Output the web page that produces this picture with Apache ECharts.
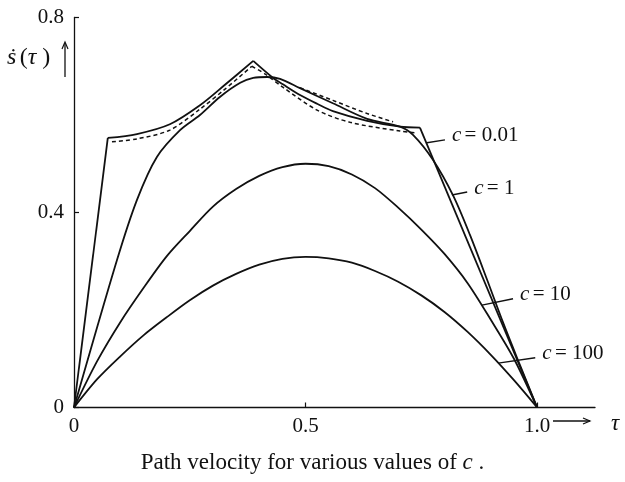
<!DOCTYPE html>
<html>
<head>
<meta charset="utf-8">
<script src="https://cdn.jsdelivr.net/npm/echarts/dist/echarts.min.js"></script>
<style>
  html, body { margin: 0; padding: 0; background: #fff; }
  #chart { width: 625px; height: 482px; }
</style>
</head>
<body>
<div id="chart"></div>
<script>
// Path velocity s'(tau) for several weights c.
const xTickLabels = ['0', '0.5', '1.0'];
const yTickLabels = ['0', '0.4', '0.8'];

// c = 0.01 : bang-bang like profile, drawn piecewise to keep the corners sharp
const c001Rise  = [[0, 0], [0.073, 0.553]];
const c001Left  = [[0.073, 0.553], [0.136, 0.561], [0.207, 0.581], [0.272, 0.620], [0.326, 0.662], [0.387, 0.711]];
const c001Right = [[0.387, 0.711], [0.430, 0.676], [0.451, 0.663], [0.488, 0.641], [0.525, 0.623], [0.559, 0.608], [0.633, 0.588], [0.704, 0.576], [0.747, 0.574]];
const c001Fall  = [[0.747, 0.574], [1, 0]];

// c = 1
const c1 = [[0, 0], [0.093, 0.303], [0.136, 0.426], [0.179, 0.514], [0.229, 0.569], [0.272, 0.600], [0.315, 0.637],
            [0.359, 0.666], [0.387, 0.676], [0.417, 0.678], [0.445, 0.674], [0.488, 0.655], [0.559, 0.624],
            [0.633, 0.592], [0.704, 0.576], [0.732, 0.559], [0.775, 0.508], [0.819, 0.434], [0.855, 0.354],
            [0.892, 0.262], [0.927, 0.173], [0.963, 0.087], [1, 0]];

// c = 10
const c10 = [[0, 0], [0.05, 0.095], [0.1, 0.175], [0.15, 0.245], [0.2, 0.31], [0.25, 0.362], [0.3, 0.412],
             [0.35, 0.448], [0.4, 0.475], [0.45, 0.493], [0.5, 0.5], [0.55, 0.495], [0.6, 0.478], [0.65, 0.45],
             [0.7, 0.41], [0.75, 0.365], [0.8, 0.315], [0.85, 0.255], [0.9, 0.18], [0.95, 0.1], [1, 0]];

// c = 100
const c100 = [[0, 0], [0.05, 0.058], [0.1, 0.105], [0.15, 0.148], [0.2, 0.185], [0.25, 0.22], [0.3, 0.25],
              [0.35, 0.274], [0.4, 0.293], [0.45, 0.305], [0.5, 0.309], [0.55, 0.306], [0.6, 0.297], [0.65, 0.28],
              [0.7, 0.258], [0.75, 0.23], [0.8, 0.196], [0.85, 0.155], [0.9, 0.108], [0.95, 0.056], [1, 0]];

// dashed reference curves
const limitLeft  = [[0.082, 0.545], [0.136, 0.551], [0.207, 0.569], [0.272, 0.612], [0.326, 0.653], [0.384, 0.700]];
const limitRight = [[0.384, 0.700], [0.413, 0.684], [0.451, 0.657], [0.525, 0.610], [0.596, 0.585], [0.704, 0.567], [0.741, 0.563]];
const limitUpper = [[0.488, 0.656], [0.559, 0.630], [0.633, 0.603], [0.689, 0.586]];

// curve names and the leader lines that tie them to their labels
const curveNames = ['0.01', '1', '10', '100'];
const leaders = [
  [[0.762, 0.543], [0.801, 0.549]],
  [[0.816, 0.436], [0.849, 0.442]],
  [[0.881, 0.210], [0.948, 0.223]],
  [[0.916, 0.091], [0.996, 0.102]]
];

const SERIF = '"Liberation Serif", "DejaVu Serif", serif';
const INK = '#111';

function curve(data, opts) {
  return Object.assign({
    type: 'line',
    data: data,
    showSymbol: false,
    symbol: 'none',
    smooth: 0.3,
    silent: true,
    lineStyle: { color: INK, width: 1.8 },
    z: 3
  }, opts || {});
}

const series = [
  curve(c001Rise, { smooth: false }),
  curve(c001Left),
  curve(c001Right),
  curve(c001Fall, { smooth: false }),
  curve(c1),
  curve(c10),
  curve(c100),
  curve(limitLeft,  { lineStyle: { color: INK, width: 1.5, type: [4, 3] } }),
  curve(limitRight, { lineStyle: { color: INK, width: 1.5, type: [4, 3] } }),
  curve(limitUpper, { lineStyle: { color: INK, width: 1.5, type: [4, 3] } })
];

leaders.forEach(function (seg, i) {
  series.push({
    type: 'line',
    data: seg,
    showSymbol: false,
    symbol: 'none',
    silent: true,
    lineStyle: { color: INK, width: 1.4 },
    endLabel: {
      show: true,
      distance: 7,
      offset: [0, -4],
      formatter: '{i|c} {n|= ' + curveNames[i] + '}',
      rich: {
        i: { fontFamily: SERIF, fontStyle: 'italic', fontSize: 21, color: INK },
        n: { fontFamily: SERIF, fontSize: 21, color: INK }
      }
    }
  });
});

const chart = echarts.init(document.getElementById('chart'), null, { renderer: 'canvas' });
chart.setOption({
  animation: false,
  backgroundColor: '#fff',
  grid: { left: 74, top: 17.5, width: 521, height: 390, containLabel: false },
  xAxis: {
    type: 'value',
    min: 0, max: 1.125, interval: 0.5,
    axisLine: { lineStyle: { color: INK, width: 1.3 } },
    axisTick: { show: true, inside: true, length: 5, lineStyle: { color: INK, width: 1.2 } },
    splitLine: { show: false },
    axisLabel: {
      showMaxLabel: false,
      margin: 8,
      fontFamily: SERIF, fontSize: 21, color: INK,
      formatter: function (v) {
        const idx = Math.round(v / 0.5);
        return Math.abs(v - idx * 0.5) < 1e-6 && idx < xTickLabels.length ? xTickLabels[idx] : '';
      }
    }
  },
  yAxis: {
    type: 'value',
    min: 0, max: 0.8, interval: 0.4,
    axisLine: { show: true, lineStyle: { color: INK, width: 1.3 } },
    axisTick: { show: true, inside: true, length: 5, lineStyle: { color: INK, width: 1.2 } },
    splitLine: { show: false },
    axisLabel: {
      margin: 10,
      fontFamily: SERIF, fontSize: 21, color: INK,
      formatter: function (v) {
        const idx = Math.round(v / 0.4);
        return yTickLabels[idx] || '';
      }
    }
  },
  series: series,
  graphic: [
    // y axis name with arrow
    {
      type: 'text', left: 7, top: 46,
      style: {
        text: '{i|ṡ} {n|(}{i|τ}{n| )}',
        rich: {
          i: { fontFamily: SERIF, fontStyle: 'italic', fontSize: 24, fill: INK },
          n: { fontFamily: SERIF, fontSize: 24, fill: INK }
        }
      }
    },
    { type: 'line', shape: { x1: 65, y1: 77, x2: 65, y2: 43 }, style: { stroke: INK, lineWidth: 1.3 } },
    { type: 'polyline', shape: { points: [[62, 49], [65, 42], [68, 49]] }, style: { stroke: INK, lineWidth: 1.2, fill: null } },
    // x axis name with arrow
    { type: 'line', shape: { x1: 553, y1: 421, x2: 590, y2: 421 }, style: { stroke: INK, lineWidth: 1.3 } },
    { type: 'polyline', shape: { points: [[583, 418], [590, 421], [583, 424]] }, style: { stroke: INK, lineWidth: 1.2, fill: null } },
    {
      type: 'text', left: 611, top: 412,
      style: { text: 'τ', fontFamily: SERIF, fontStyle: 'italic', fontSize: 23, fill: INK }
    },
    // caption
    {
      type: 'text', left: 'center', top: 451,
      style: {
        text: '{n|Path velocity for various values of }{i|c}{n| .}',
        rich: {
          i: { fontFamily: SERIF, fontStyle: 'italic', fontSize: 23, fill: INK },
          n: { fontFamily: SERIF, fontSize: 23, fill: INK }
        }
      }
    }
  ]
});
</script>
</body>
</html>
